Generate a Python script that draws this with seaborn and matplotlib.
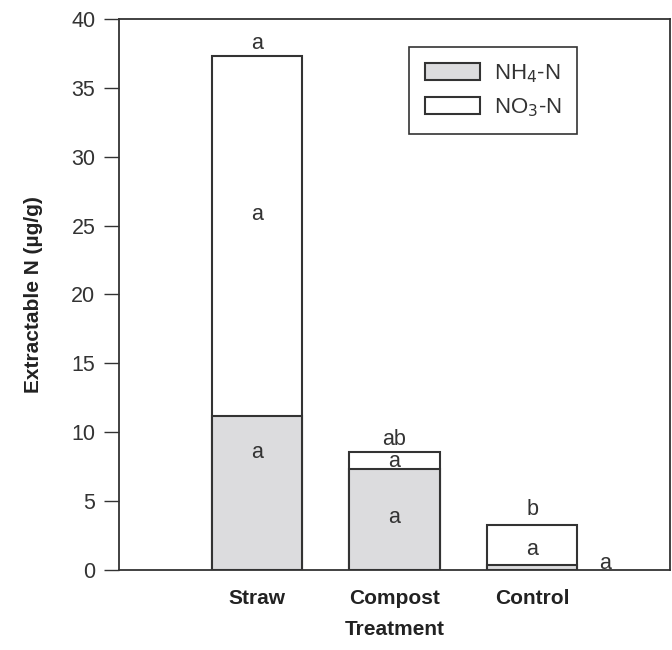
import matplotlib
matplotlib.use('Agg')
import matplotlib.pyplot as plt
import seaborn as sns
import pandas as pd

treatments = ['Straw', 'Compost', 'Control']
nh4 = [11.2, 7.3, 0.4]
total = [37.3, 8.6, 3.3]

# significance letters: (x position, y position, text)
letters_x = [0, 0, 0, 1, 1, 1, 2, 2, 2.53]
letters_y = [38.2, 25.8, 8.5, 9.5, 7.9, 3.8, 4.4, 1.5, 0.5]
letters = ['a', 'a', 'a', 'ab', 'a', 'a', 'b', 'a', 'a']

sns.set_theme(style='white')
plt.rcParams['font.family'] = ['Liberation Sans', 'DejaVu Sans']

df = pd.DataFrame({'Treatment': treatments, 'NH4': nh4, 'Total': total})

ink = '#333333'
fig = plt.figure(figsize=(6.72, 6.5), dpi=100)
ax = fig.add_axes([0.177, 0.123, 0.820, 0.848])

sns.barplot(data=df, x='Treatment', y='Total', order=treatments, color='white',
            edgecolor=ink, linewidth=1.5, width=0.655, saturation=1, ax=ax,
            label='NO$_3$-N')
sns.barplot(data=df, x='Treatment', y='NH4', order=treatments, color='#dcdcde',
            edgecolor=ink, linewidth=1.5, width=0.655, saturation=1, ax=ax,
            label='NH$_4$-N')

for x, y, t in zip(letters_x, letters_y, letters):
    ax.text(x, y, t, ha='center', va='center', fontsize=15.5, color=ink)

ax.set_xlim(-1, 3)
ax.set_ylim(0, 40)
ax.set_yticks(range(0, 41, 5))
ax.tick_params(axis='y', left=True, length=11, width=1, color=ink, labelsize=15.5,
               labelcolor=ink, pad=6)
ax.tick_params(axis='x', bottom=False, labelsize=15, labelcolor='#222222', pad=8)
for lab in ax.get_xticklabels():
    lab.set_fontweight('bold')
for s in ax.spines.values():
    s.set_color(ink)
    s.set_linewidth(1.3)

ax.set_xlabel('Treatment', fontsize=15, fontweight='bold', color='#222222', labelpad=8)
ax.set_ylabel('Extractable N (µg/g)', fontsize=15, fontweight='bold', color='#222222', labelpad=20)

handles, labels = ax.get_legend_handles_labels()
order = [labels.index('NH$_4$-N'), labels.index('NO$_3$-N')]
leg = ax.legend([handles[i] for i in order], [labels[i] for i in order],
                loc='upper right', bbox_to_anchor=(0.831, 0.949), borderaxespad=0,
                fontsize=16, handlelength=2.5, handleheight=0.8, fancybox=False,
                framealpha=1, edgecolor=ink, borderpad=0.7, labelspacing=0.5,
                handletextpad=0.6)
leg.get_frame().set_linewidth(1.2)
for t in leg.get_texts():
    t.set_color(ink)

fig.savefig('out.png', dpi=100)
